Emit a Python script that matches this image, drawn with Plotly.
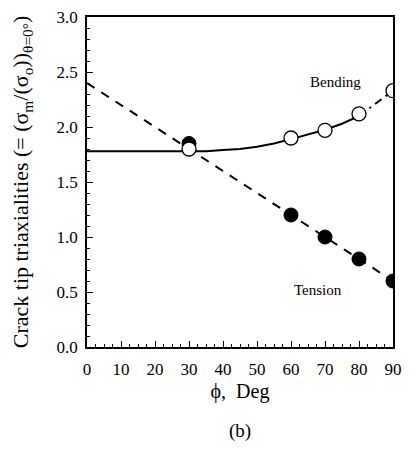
import plotly.graph_objects as go

# Measured crack tip triaxialities
phi_pts = [30, 60, 70, 80, 90]
tension_pts = [1.85, 1.20, 1.00, 0.80, 0.60]
bending_pts = [1.80, 1.90, 1.97, 2.12, 2.33]

# Fitted trend lines
tension_fit_x = [0, 90]
tension_fit_y = [2.40, 0.60]
bending_fit_x = [0, 10, 20, 30, 35, 40, 45, 50, 55, 60, 65, 70, 75, 80]
bending_fit_y = [1.78, 1.78, 1.78, 1.78, 1.78, 1.79, 1.80, 1.82, 1.85, 1.89, 1.93, 1.975, 2.03, 2.10]
bending_ext_x = [80, 90]
bending_ext_y = [2.10, 2.33]

FONT = "Liberation Serif"

fig = go.Figure()

fig.add_trace(go.Scatter(x=tension_fit_x, y=tension_fit_y, mode="lines",
                         line=dict(color="black", width=2, dash="9px,8px")))
fig.add_trace(go.Scatter(x=bending_fit_x, y=bending_fit_y, mode="lines",
                         line=dict(color="black", width=2)))
fig.add_trace(go.Scatter(x=bending_ext_x, y=bending_ext_y, mode="lines",
                         line=dict(color="black", width=2, dash="8px,5px,2px,5px")))
fig.add_trace(go.Scatter(x=phi_pts, y=tension_pts, mode="markers",
                         marker=dict(size=14, color="black",
                                     line=dict(color="black", width=1))))
fig.add_trace(go.Scatter(x=phi_pts, y=bending_pts, mode="markers",
                         marker=dict(size=14, color="white",
                                     line=dict(color="black", width=1.3))))

fig.add_annotation(x=73, y=2.41, text="Bending", showarrow=False,
                   font=dict(family=FONT, size=15, color="black"))
fig.add_annotation(x=68, y=0.52, text="Tension", showarrow=False,
                   font=dict(family=FONT, size=15, color="black"))
fig.add_annotation(x=0.5, y=-0.256, xref="paper", yref="paper",
                   yanchor="middle", text="(b)", showarrow=False,
                   font=dict(family=FONT, size=19, color="black"))

axis_common = dict(
    showline=True, linecolor="black", linewidth=1.5, mirror=True,
    showgrid=False, zeroline=False, ticks="inside", tickcolor="black",
    tickwidth=1, ticklen=6,
    tickfont=dict(family=FONT, size=17, color="black"),
)

fig.update_xaxes(
    range=[0, 90], tickvals=[0, 10, 20, 30, 40, 50, 60, 70, 80, 90],
    minor=dict(dtick=2.5, ticks="inside", ticklen=3, tickcolor="black"),
    ticklabelstandoff=6,
    title=dict(text="ϕ,  Deg", font=dict(family=FONT, size=20, color="black"),
               standoff=6),
    **axis_common,
)
fig.update_yaxes(
    range=[0, 3.0], tickvals=[0, 0.5, 1.0, 1.5, 2.0, 2.5, 3.0],
    ticktext=["0.0", "0.5", "1.0", "1.5", "2.0", "2.5", "3.0"],
    minor=dict(dtick=0.1, ticks="inside", ticklen=3, tickcolor="black"),
    ticklabelstandoff=4,
    title=dict(text="Crack tip triaxialities (= (σ<sub>m</sub>/(σ<sub>o</sub>))<sub>θ=0°</sub>)",
               font=dict(family=FONT, size=22, color="black"), standoff=22),
    **axis_common,
)

fig.update_layout(
    width=410, height=451, showlegend=False,
    paper_bgcolor="white", plot_bgcolor="white",
    margin=dict(l=87, r=8, t=15, b=104),
)

fig.write_html("out.html")
